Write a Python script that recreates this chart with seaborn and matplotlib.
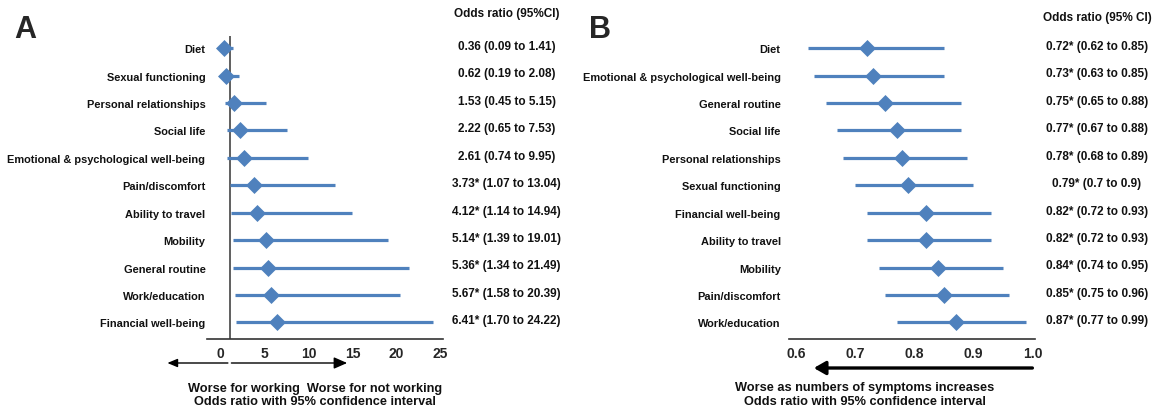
import numpy as np
import pandas as pd
import matplotlib.pyplot as plt
import seaborn as sns
from matplotlib.transforms import blended_transform_factory

# panel A: working vs not working
a_labels = ["Diet", "Sexual functioning", "Personal relationships", "Social life",
            "Emotional & psychological well-being", "Pain/discomfort", "Ability to travel",
            "Mobility", "General routine", "Work/education", "Financial well-being"]
a_or = [0.36, 0.62, 1.53, 2.22, 2.61, 3.73, 4.12, 5.14, 5.36, 5.67, 6.41]
a_lo = [0.09, 0.19, 0.45, 0.65, 0.74, 1.07, 1.14, 1.39, 1.34, 1.58, 1.70]
a_hi = [1.41, 2.08, 5.15, 7.53, 9.95, 13.04, 14.94, 19.01, 21.49, 20.39, 24.22]
a_text = ["0.36 (0.09 to 1.41)", "0.62 (0.19 to 2.08)", "1.53 (0.45 to 5.15)",
          "2.22 (0.65 to 7.53)", "2.61 (0.74 to 9.95)", "3.73* (1.07 to 13.04)",
          "4.12* (1.14 to 14.94)", "5.14* (1.39 to 19.01)", "5.36* (1.34 to 21.49)",
          "5.67* (1.58 to 20.39)", "6.41* (1.70 to 24.22)"]
a_ticks = [0, 5, 10, 15, 20, 25]

# panel B: number of symptoms
b_labels = ["Diet", "Emotional & psychological well-being", "General routine", "Social life",
            "Personal relationships", "Sexual functioning", "Financial well-being",
            "Ability to travel", "Mobility", "Pain/discomfort", "Work/education"]
b_or = [0.72, 0.73, 0.75, 0.77, 0.78, 0.79, 0.82, 0.82, 0.84, 0.85, 0.87]
b_lo = [0.62, 0.63, 0.65, 0.67, 0.68, 0.70, 0.72, 0.72, 0.74, 0.75, 0.77]
b_hi = [0.85, 0.85, 0.88, 0.88, 0.89, 0.90, 0.93, 0.93, 0.95, 0.96, 0.99]
b_text = ["0.72* (0.62 to 0.85)", "0.73* (0.63 to 0.85)", "0.75* (0.65 to 0.88)",
          "0.77* (0.67 to 0.88)", "0.78* (0.68 to 0.89)", "0.79* (0.7 to 0.9)",
          "0.82* (0.72 to 0.93)", "0.82* (0.72 to 0.93)", "0.84* (0.74 to 0.95)",
          "0.85* (0.75 to 0.96)", "0.87* (0.77 to 0.99)"]
b_ticks = [0.6, 0.7, 0.8, 0.9, 1.0]

sns.set_style("white")
plt.rcParams['font.family'] = ['Liberation Sans', 'DejaVu Sans']
plt.rcParams['font.weight'] = 'bold'

blue = "#4F81BD"
fig = plt.figure(figsize=(11.62, 4.10), dpi=100)
axA = fig.add_axes([0.178, 0.171, 0.203, 0.739])
axB = fig.add_axes([0.679, 0.171, 0.212, 0.739])


def forest(ax, labels, orr, lo, hi, texts, ticks, xlim, text_x, header, header_y, ypad):
    df = pd.DataFrame({"label": labels, "or": orr, "lo": lo, "hi": hi})
    df["row"] = np.arange(len(df))
    ax.hlines(df["row"], df["lo"], df["hi"], color=blue, lw=2.3, zorder=2)
    sns.scatterplot(data=df, x="or", y="row", marker="D", s=75, color=blue,
                    edgecolor=blue, linewidth=0, ax=ax, zorder=3)
    ax.set_xlim(*xlim)
    ax.set_ylim(10.6, -0.45)
    ax.set_yticks(df["row"])
    ax.set_yticklabels(labels, fontsize=7.9, fontweight="bold", color="#111111")
    ax.set_xticks(ticks)
    ax.set_xticklabels([str(t) for t in ticks], fontsize=10, fontweight="bold")
    ax.set_xlabel("")
    ax.set_ylabel("")
    for s in ["top", "right", "left"]:
        ax.spines[s].set_visible(False)
    ax.spines["bottom"].set_color("#333333")
    ax.spines["bottom"].set_linewidth(1.2)
    ax.tick_params(axis="y", length=0, pad=ypad)
    ax.tick_params(axis="x", direction="inout", length=6, width=1, color="#333333", pad=2)
    tr = blended_transform_factory(fig.transFigure, ax.transData)
    for i, t in enumerate(texts):
        ax.text(text_x, i - 0.08, t, transform=tr, ha="center", va="center",
                fontsize=8.5, fontweight="bold", color="#111111")
    fig.text(text_x, header_y, header, ha="center", va="center",
             fontsize=8.5, fontweight="bold", color="#111111")


forest(axA, a_labels, a_or, a_lo, a_hi, a_text, a_ticks, (-1.6, 25.3),
       0.436, "Odds ratio (95%CI)", 0.966, 1)
forest(axB, b_labels, b_or, b_lo, b_hi, b_text, b_ticks, (0.588, 1.005),
       0.944, "Odds ratio (95% CI)", 0.957, 6)

# reference line at OR = 1 in panel A
axA.axvline(1, color="#444444", lw=1.2, zorder=1)

# direction arrows
arrow_y = 1 - 364 / 410
axA.annotate("", xy=(-6.1, arrow_y), xytext=(0.8, arrow_y),
             xycoords=("data", "figure fraction"), textcoords=("data", "figure fraction"),
             arrowprops=dict(arrowstyle="-|>,head_length=0.6,head_width=0.25", color="black",
                             lw=1, shrinkA=0, shrinkB=0), annotation_clip=False)
axA.annotate("", xy=(14.4, arrow_y), xytext=(1.2, arrow_y),
             xycoords=("data", "figure fraction"), textcoords=("data", "figure fraction"),
             arrowprops=dict(arrowstyle="-|>,head_length=0.8,head_width=0.35", color="black",
                             lw=1, shrinkA=0, shrinkB=0), annotation_clip=False)
arrow_yb = 1 - 369 / 410
axB.annotate("", xy=(0.63, arrow_yb), xytext=(1.0, arrow_yb),
             xycoords=("data", "figure fraction"), textcoords=("data", "figure fraction"),
             arrowprops=dict(arrowstyle="-|>,head_length=0.7,head_width=0.4", color="black",
                             lw=2.4, shrinkA=0, shrinkB=0), annotation_clip=False)

fig.text(0.271, 1 - 389 / 410, "Worse for working  Worse for not working",
         ha="center", va="center", fontsize=9.2, fontweight="bold", color="#111111")
fig.text(0.271, 1 - 402 / 410, "Odds ratio with 95% confidence interval",
         ha="center", va="center", fontsize=9.2, fontweight="bold", color="#111111")
fig.text(0.744, 1 - 388 / 410, "Worse as numbers of symptoms increases",
         ha="center", va="center", fontsize=9.2, fontweight="bold", color="#111111")
fig.text(0.744, 1 - 402 / 410, "Odds ratio with 95% confidence interval",
         ha="center", va="center", fontsize=9.2, fontweight="bold", color="#111111")

# panel letters
fig.text(0.022, 1 - 38 / 410, "A", ha="center", va="baseline", fontsize=22, fontweight="bold")
fig.text(0.516, 1 - 38 / 410, "B", ha="center", va="baseline", fontsize=22, fontweight="bold")

fig.savefig("out.png", dpi=100)
